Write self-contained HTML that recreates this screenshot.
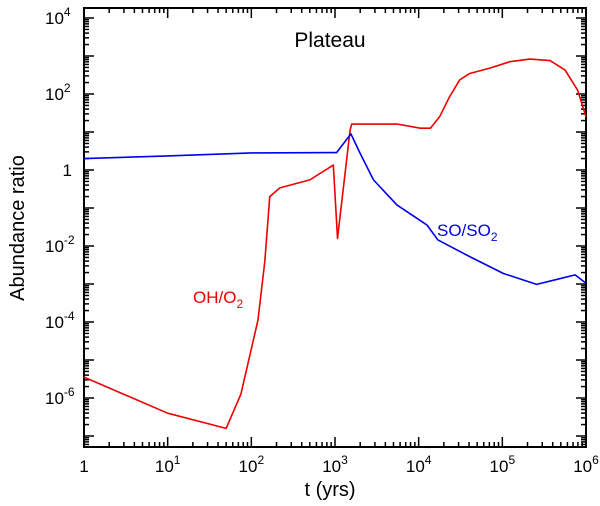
<!DOCTYPE html>
<html><head><meta charset="utf-8"><style>
body{margin:0;background:#fff}
svg{display:block;font-family:"Liberation Sans",sans-serif}
</style></head><body>
<svg id="chart" width="600" height="506" viewBox="0 0 600 506">
<g id="axes"></g>
<g id="series"></g>
<text x="330" y="47" font-size="21" text-anchor="middle">Plateau</text>
<text x="437" y="236" font-size="17" fill="#0000ee">SO/SO<tspan font-size="12" dy="5">2</tspan></text>
<text x="193" y="303" font-size="17" fill="#ee0000">OH/O<tspan font-size="12" dy="5">2</tspan></text>
<text transform="translate(24,228) rotate(-90)" font-size="20" text-anchor="middle">Abundance ratio</text>
<text x="330" y="496" font-size="20" text-anchor="middle">t (yrs)</text>
</svg>
<script>
const xTickExp=[0,1,2,3,4,5,6];
const yTickExp=[4,2,0,-2,-4,-6];
const ohT=[1,10,50,75,120,145,166,219,500,955,1072,1514,1585,5495,10470,13800,17780,23440,30900,40740,70800,123000,213800,371500,562300,794300,1000000];
const ohV=[-5.45,-6.4,-6.8,-5.9,-3.95,-2.4,-0.7,-0.47,-0.26,0.13,-1.8,1.05,1.21,1.21,1.10,1.1,1.40,1.93,2.37,2.54,2.68,2.85,2.92,2.88,2.63,2.1,1.4];
const soT=[1,10,100,1000,1047,1549,1995,2884,5495,12590,16980,40740,102300,257000,446700,741300,1000000];
const soV=[0.3,0.37,0.45,0.46,0.46,0.95,0.44,-0.26,-0.92,-1.45,-1.84,-2.28,-2.72,-3.01,-2.88,-2.76,-2.98];
const L=84,R=586,T=8,B=447;
const xs=t=>L+Math.log10(t)*(R-L)/6;
const ys=e=>170-e*38;
const NS="http://www.w3.org/2000/svg";
const ax=document.getElementById('axes');
function mk(tag,attrs,parent){const e=document.createElementNS(NS,tag);for(const k in attrs)e.setAttribute(k,attrs[k]);parent.appendChild(e);return e;}
const fr=mk('rect',{x:L,y:T,width:R-L,height:B-T,fill:'none',stroke:'#000','stroke-width':2},ax);


for(let d=0;d<6;d++){for(let m=1;m<10;m++){const x=xs(Math.pow(10,d)*m);const len=m==1?10:5;
mk('line',{x1:x,x2:x,y1:B,y2:B-len,stroke:'#000','stroke-width':1.5},ax);
mk('line',{x1:x,x2:x,y1:T,y2:T+len,stroke:'#000','stroke-width':1.5},ax);}}
xTickExp.forEach(e=>{const x=xs(Math.pow(10,e));
const t=mk('text',{x:x,y:472,'font-size':17,'text-anchor':'middle'},ax);


if(e==0)t.textContent='1';else{t.textContent='10';const s=mk('tspan',{'font-size':12,dy:-8},t);s.textContent=e;}});
for(let d=-8;d<5;d++){for(let m=1;m<10;m++){const e=d+Math.log10(m);const y=ys(e);if(y<T||y>B)continue;const len=m==1?10:5;
mk('line',{x1:L,x2:L+len,y1:y,y2:y,stroke:'#000','stroke-width':1.5},ax);
mk('line',{x1:R,x2:R-len,y1:y,y2:y,stroke:'#000','stroke-width':1.5},ax);}}
yTickExp.forEach(e=>{const y=ys(e);
const t=mk('text',{x:e==0?72:45,y:y+6,'font-size':17,'text-anchor':e==0?'end':'start'},ax);


if(e==0)t.textContent='1';else{t.textContent='10';const s=mk('tspan',{'font-size':12,dy:-8},t);s.textContent=e;}});
const sg=document.getElementById('series');
function line(T_,V,col,name){const p=mk('polyline',{points:T_.map((t,i)=>xs(t)+','+ys(V[i])).join(' '),fill:'none',stroke:col,'stroke-width':1.6,'stroke-linejoin':'round'},sg);

}
line(ohT,ohV,'#ee0000','oh-o2-line');
line(soT,soV,'#0000ee','so-so2-line');
</script>
</body></html>
